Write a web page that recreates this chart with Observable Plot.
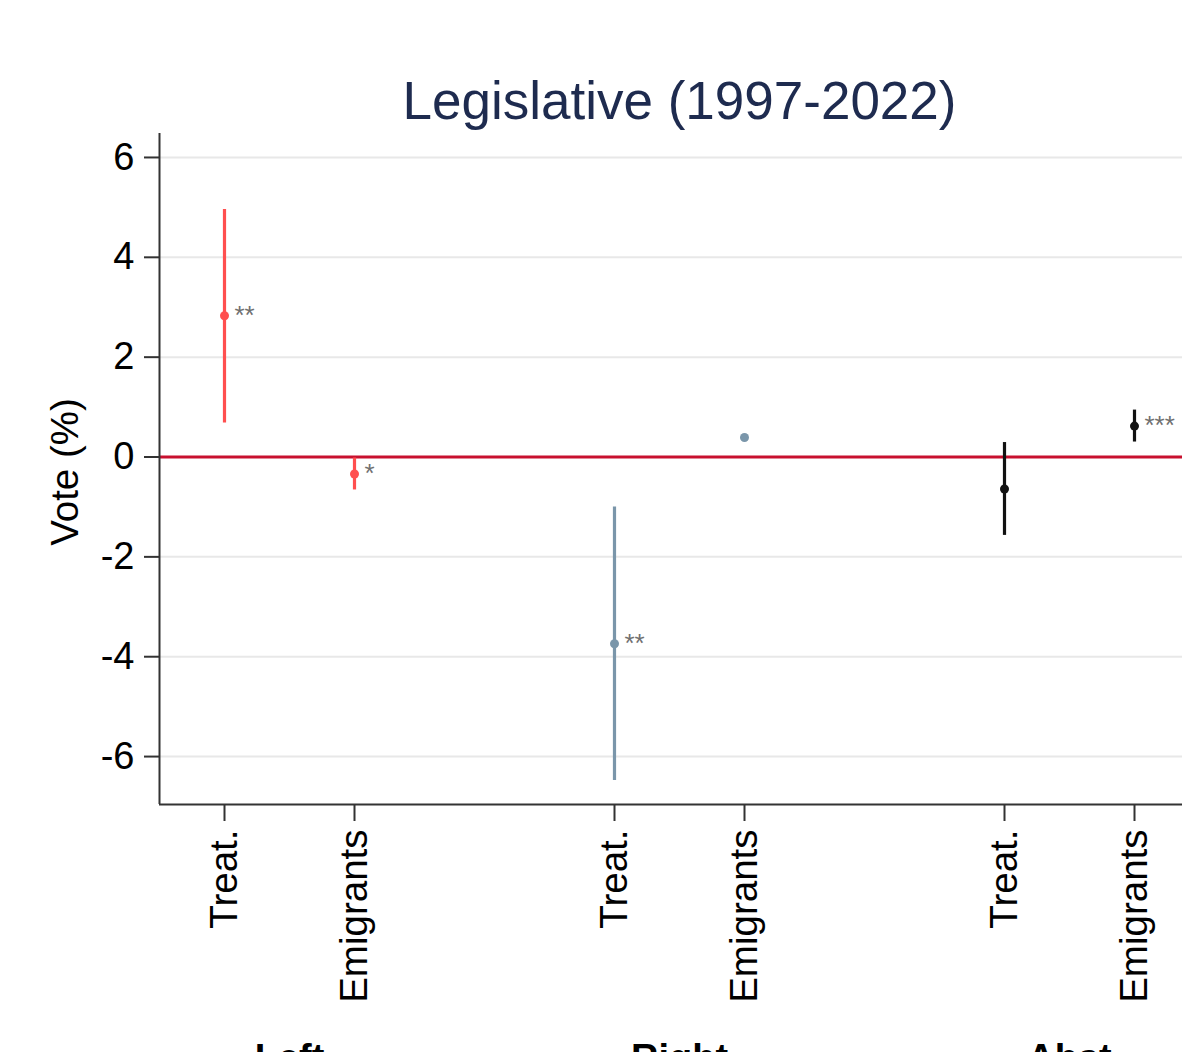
<!DOCTYPE html>
<html>
<head>
<meta charset="utf-8">
<script src="https://cdn.jsdelivr.net/npm/d3@7"></script>
<script src="https://cdn.jsdelivr.net/npm/@observablehq/plot@0.6"></script>
<style>
  html, body { margin: 0; padding: 0; background: #fff; overflow: hidden; }
  #chart svg { font-family: "Liberation Sans", Arial, sans-serif; overflow: hidden; }
</style>
</head>
<body>
<div id="chart"></div>
<script>
// ---- data ----
const groups     = ["Left", "Right", "Abst"];
const categories = ["Treat.", "Emigrants"];
const estimates  = [2.83, -0.34, -3.74, 0.39, -0.64, 0.62];
const lower      = [0.68, -0.66, -6.48, 0.36, -1.57, 0.30];
const upper      = [4.96, -0.02, -1.00, 0.42, 0.29, 0.94];
const stars      = ["**", "*", "**", "", "", "***"];
const groupColors = ["#ff4f4f", "#7a96aa", "#111111"];
const yTicks = [-6, -4, -2, 0, 2, 4, 6];
const yDomain = [-6.96, 6.48];
const xDomain = [0.5, 8.5];
const title = "Legislative (1997-2022)";
const yLabel = "Vote (%)";

// table built from the arrays: slot index = group * 3 + category + 1
const rows = estimates.map((est, i) => {
  const g = Math.floor(i / 2), c = i % 2;
  return {
    group: groups[g], category: categories[c], slot: g * 3 + c + 1,
    est, lo: lower[i], hi: upper[i], stars: stars[i], color: groupColors[g]
  };
});
const groupSlots = groups.map((g, i) => i * 3 + 1.5);

const chart = Plot.plot({
  width: 1182,
  height: 1052,
  marginLeft: 159,
  marginTop: 133,
  marginBottom: 248,
  marginRight: -17,
  style: { fontFamily: "Liberation Sans, Arial, sans-serif", background: "#fff" },
  x: { domain: xDomain, range: [159, 1199] },
  y: { domain: yDomain },
  marks: [
    Plot.gridY(yTicks, { stroke: "#e8e8e8", strokeOpacity: 1, strokeWidth: 2 }),
    Plot.ruleY([0], { stroke: "#c8102e", strokeWidth: 3 }),
    Plot.ruleX(rows, { x: "slot", y1: "lo", y2: "hi", stroke: "color", strokeWidth: 3.2 }),
    Plot.dot(rows, { x: "slot", y: "est", fill: "color", r: 4.5 }),
    Plot.text(rows, { x: "slot", y: "est", text: "stars", dx: 10, dy: 0, textAnchor: "start",
                      fill: "#707070", fontSize: 26 }),
    Plot.ruleX([xDomain[0]], { stroke: "#333", strokeWidth: 2 }),
    Plot.ruleY([yDomain[0]], { stroke: "#333", strokeWidth: 2 }),
    Plot.axisY(yTicks, { tickSize: 15, tickPadding: 10, fontSize: 38, strokeWidth: 2,
                         stroke: "#333", color: "#000", label: null,
                         tickFormat: (d) => `${d}` }),
    Plot.axisX(rows.map(d => d.slot), { tickSize: 17, tickPadding: 8, tickRotate: -90,
                         fontSize: 38.5, strokeWidth: 2, stroke: "#333", color: "#000",
                         label: null,
                         tickFormat: (d) => rows.find(r => r.slot === d).category }),
    Plot.axisX(groupSlots, { tickSize: 0, tickPadding: 240, fontSize: 38, fontWeight: "bold",
                         label: null, color: "#000",
                         tickFormat: (d) => groups[groupSlots.indexOf(d)] }),
    Plot.text([yLabel], { frameAnchor: "left", dx: -94, dy: 3, rotate: -90, fontSize: 38.5,
                          textAnchor: "middle", fill: "#000", text: d => d }),
    Plot.text([title], { frameAnchor: "top", dy: -15, fontSize: 53, fill: "#1e2b4f",
                         lineAnchor: "bottom", text: d => d })
  ]
});
document.getElementById("chart").appendChild(chart);
</script>
</body>
</html>
